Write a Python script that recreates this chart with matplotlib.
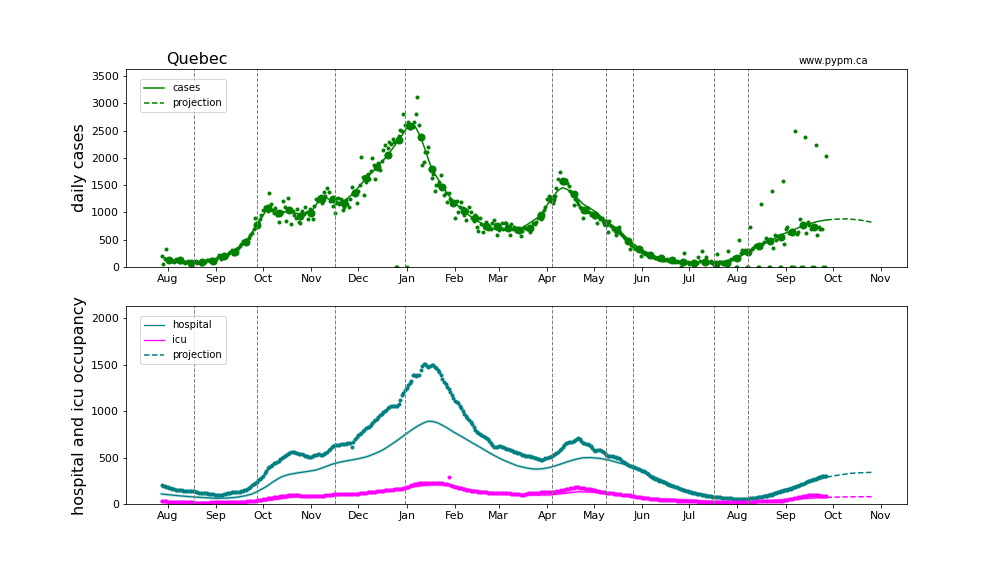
import numpy as np
import pandas as pd
import matplotlib
matplotlib.use("Agg")
import matplotlib.pyplot as plt
import matplotlib.dates as mdates

# ---------------- data ----------------
ORIGIN = np.datetime64("2020-08-01")
DATA_START = "2020-07-28"

# daily reported cases, from 2020-07-28 (one row per 7 days)
cases_daily = [
    190, 55, 150, 330, 140, 110, 125,
    115, 95, 140, 100, 125, 80, 110,
    95, 70, 85, 115, 60, 50, 90,
    80, 110, 70, 95, 60, 90, 105,
    95, 130, 120, 100, 140, 110, 125,
    150, 180, 210, 140, 170, 200, 190,
    220, 250, 270, 300, 240, 260, 330,
    340, 380, 410, 470, 430, 500, 470,
    520, 580, 620, 700, 900, 760, 820,
    880, 960, 1040, 1100, 1060, 1020, 1350,
    1150, 1050, 990, 1080, 950, 830, 1000,
    1000, 1210, 1100, 850, 1270, 1050, 780,
    1030, 960, 900, 1060, 830, 800, 1020,
    970, 1100, 1000, 870, 1060, 980, 880,
    1120, 1250, 1200, 1280, 1300, 1170, 1380,
    1300, 1440, 1380, 1200, 1250, 1120, 980,
    1180, 1260, 1150, 1250, 1050, 1100, 1220,
    1150, 1100, 1250, 1470, 1350, 1400, 1170,
    1400, 1500, 2020, 1650, 1320, 1560, 1700,
    1620, 1750, 1990, 1870, 1610, 1850, 1900,
    1780, 1950, 2150, 2236, 2050, 2180, 2300,
    2250, 2350, 2300, 0, 0, 2400, 2510,
    2500, 2798, 2600, 0, 2650, 2550, 2580,
    2571, 2650, 2800, 3127, 2600, 2380, 1870,
    1930, 2113, 2100, 2205, 1800, 1625, 1700,
    1393, 1502, 1500, 1550, 1686, 1450, 1320,
    1350, 1197, 1350, 1250, 1200, 1170, 892,
    1200, 1000, 1100, 1197, 1080, 960, 861,
    1020, 1105, 1000, 900, 850, 950, 739,
    665, 890, 780, 647, 770, 820, 700,
    740, 690, 810, 861, 720, 586, 680,
    730, 800, 700, 800, 810, 702, 586,
    788, 700, 739, 650, 720, 678, 568,
    650, 739, 720, 700, 708, 647, 730,
    800, 788, 830, 900, 953, 874, 900,
    1050, 1100, 1241, 1301, 1200, 1241, 1167,
    1300, 1450, 1607, 1746, 1550, 1582, 1534,
    1600, 1534, 1480, 1400, 1338, 1136, 1241,
    1200, 1150, 1100, 1075, 892, 1045, 1013,
    1075, 1000, 950, 980, 920, 953, 800,
    922, 870, 892, 850, 800, 812, 647,
    848, 750, 700, 720, 586, 678, 739,
    620, 580, 550, 520, 482, 470, 324,
    403, 380, 350, 330, 340, 330, 202,
    280, 250, 230, 240, 214, 200, 190,
    180, 170, 165, 150, 140, 160, 130,
    130, 120, 140, 110, 125, 128, 100,
    95, 100, 90, 97, 5, 79, 251,
    80, 85, 60, 70, 90, 68, 50,
    70, 189, 110, 281, 90, 97, 189,
    80, 95, 100, 70, 55, 60, 232,
    90, 80, 75, 60, 70, 68, 281,
    120, 140, 150, 180, 0, 0, 495,
    250, 312, 280, 300, 0, 0, 739,
    320, 350, 380, 400, 0, 0, 1149,
    420, 450, 526, 470, 0, 0, 1393,
    342, 586, 500, 560, 0, 0, 1576,
    416, 691, 739, 620, 0, 0, 0,
    2487, 599, 640, 874, 0, 0, 2377,
    629, 830, 760, 700, 0, 0, 2230,
    580, 739, 691, 700, 0, 0, 2028,
]

# weekly averaged cases (large dots), every 7 days from 2020-08-02
WEEKLY_START = "2020-08-02"
cases_weekly = [
    130, 125, 70, 95, 115, 190, 280, 450, 760, 1075,
    995, 1040, 925, 995, 1240, 1240, 1180, 1360, 1635, 1830,
    2050, 2330, 2585, 2380, 1800, 1460, 1180, 1030, 895, 740,
    750, 705, 680, 710, 955, 1240, 1580, 1340, 1045, 955,
    810, 680, 480, 330, 215, 160, 125, 85, 70, 95,
    55, 70, 170, 270, 385, 475, 540, 630, 770, 725,
]

# model for cases: days after 2020-08-01 and values
case_model_days = [-4, 1, 8, 15, 22, 29, 36, 43, 50, 57, 64, 70, 78, 85, 92, 99,
                   106, 112, 119, 127, 134, 141, 148, 154, 156, 158, 162, 169, 176,
                   183, 190, 197, 205, 211, 218, 225, 230, 239, 245, 250, 253, 256,
                   260, 266, 274, 281, 289, 295, 303, 310, 317, 324, 333, 343, 351,
                   358, 365, 372, 379, 387, 394, 401, 407, 416, 422]
case_model_vals = [190, 128, 125, 75, 97, 118, 189, 285, 455, 760, 1075, 1015, 1000,
                   971, 1013, 1307, 1200, 1180, 1350, 1625, 1827, 2052, 2327, 2584,
                   2610, 2602, 2388, 1809, 1471, 1197, 1013, 861, 739, 678, 670, 678,
                   770, 940, 1228, 1400, 1453, 1420, 1330, 1154, 1013, 830, 678, 495,
                   324, 220, 147, 115, 86, 86, 86, 110, 159, 281, 403, 495, 599, 678,
                   757, 830, 861]
case_proj_days = [422, 428, 435, 443, 451]
case_proj_vals = [861, 874, 880, 861, 819]

# hospital occupancy, daily from 2020-07-28
hosp_daily = [
    204, 198, 190, 185, 179, 175, 170,
    165, 160, 155, 150, 152, 148, 146,
    145, 144, 143, 142, 141, 140, 138,
    135, 130, 128, 122, 120, 118, 117,
    116, 115, 113, 110, 108, 105, 100,
    98, 97, 96, 98, 100, 105, 110,
    115, 120, 122, 124, 127, 130, 132,
    132, 133, 135, 140, 148, 152, 158,
    170, 185, 200, 212, 222, 240, 258,
    270, 282, 300, 330, 360, 385, 401,
    412, 425, 438, 447, 455, 465, 480,
    495, 505, 515, 528, 540, 552, 560,
    562, 558, 550, 545, 540, 538, 535,
    528, 520, 515, 510, 505, 509, 515,
    525, 532, 538, 535, 530, 527, 535,
    548, 565, 581, 595, 610, 622, 634,
    636, 638, 640, 642, 645, 648, 650,
    655, 660, 662, 610, 670, 700, 725,
    742, 755, 770, 785, 800, 815, 825,
    831, 850, 870, 890, 905, 920, 939,
    955, 970, 990, 1005, 1018, 1035, 1045,
    1052, 1054, 1055, 1054, 1054, 1080, 1120,
    1172, 1200, 1230, 1250, 1280, 1300, 1330,
    1387, 1390, 1380, 1387, 1395, 1440, 1490,
    1513, 1505, 1490, 1477, 1485, 1500, 1495,
    1480, 1465, 1440, 1423, 1390, 1350, 1315,
    1290, 1265, 1244, 1210, 1170, 1137, 1115,
    1100, 1083, 1060, 1030, 1000, 975, 950,
    925, 905, 885, 860, 830, 800, 780,
    760, 750, 740, 730, 724, 715, 700,
    680, 660, 640, 616, 612, 615, 620,
    624, 616, 610, 602, 595, 588, 581,
    578, 570, 565, 558, 550, 545, 538,
    532, 528, 522, 518, 516, 512, 509,
    505, 498, 492, 485, 480, 475, 478,
    485, 492, 498, 505, 509, 515, 525,
    540, 552, 562, 578, 595, 615, 635,
    652, 660, 665, 668, 670, 678, 690,
    700, 713, 705, 680, 659, 652, 648,
    645, 640, 620, 600, 581, 575, 578,
    582, 580, 570, 560, 545, 527, 520,
    518, 516, 514, 510, 505, 498, 491,
    480, 468, 455, 445, 432, 419, 410,
    405, 401, 395, 388, 380, 372, 366,
    360, 352, 345, 335, 320, 300, 287,
    280, 272, 265, 258, 250, 245, 240,
    232, 225, 218, 210, 202, 195, 190,
    186, 180, 172, 165, 158, 152, 150,
    145, 138, 130, 125, 120, 118, 115,
    112, 108, 105, 100, 96, 92, 88,
    86, 84, 82, 80, 79, 77, 75,
    73, 72, 70, 69, 68, 66, 64,
    61, 60, 58, 57, 56, 55, 54,
    54, 53, 52, 50, 50, 55, 61,
    63, 65, 68, 70, 72, 75, 78,
    79, 82, 86, 90, 93, 97, 102,
    108, 115, 120, 125, 132, 138, 142,
    146, 150, 154, 158, 165, 172, 180,
    186, 192, 198, 204, 212, 220, 230,
    240, 246, 252, 258, 262, 266, 272,
    280, 288, 294, 298, 301, 303, 305,
]

# icu occupancy, daily from 2020-07-28
icu_daily = [
    32, 30, 28, 27, 25, 24, 23,
    22, 21, 20, 20, 19, 19, 18,
    18, 18, 18, 17, 17, 17, 17,
    16, 16, 16, 15, 15, 16, 16,
    16, 15, 15, 16, 17, 17, 18,
    18, 18, 18, 19, 19, 20, 20,
    21, 21, 22, 22, 23, 23, 24,
    24, 24, 25, 25, 25, 26, 27,
    28, 30, 32, 34, 36, 38, 40,
    43, 46, 50, 54, 58, 62, 66,
    68, 70, 72, 74, 76, 79, 82,
    84, 86, 88, 90, 92, 95, 96,
    97, 96, 95, 94, 92, 90, 88,
    87, 86, 86, 85, 86, 86, 87,
    86, 85, 86, 87, 86, 88, 90,
    92, 95, 98, 100, 102, 104, 104,
    105, 104, 106, 105, 107, 106, 108,
    107, 108, 106, 108, 108, 110, 112,
    113, 115, 116, 118, 120, 122, 124,
    125, 126, 128, 130, 133, 136, 139,
    141, 143, 145, 147, 149, 150, 152,
    154, 156, 157, 158, 160, 162, 164,
    166, 168, 172, 178, 185, 192, 200,
    208, 215, 218, 220, 222, 224, 226,
    228, 229, 229, 228, 228, 227, 226,
    225, 224, 223, 222, 222, 221, 220,
    218, 215, 287, 204, 198, 192, 186,
    180, 175, 170, 168, 164, 160, 156,
    152, 148, 145, 142, 140, 138, 136,
    134, 132, 130, 128, 126, 124, 122,
    121, 120, 119, 118, 117, 118, 120,
    122, 121, 119, 117, 116, 115, 114,
    112, 111, 110, 109, 108, 105, 100,
    98, 102, 106, 110, 114, 118, 120,
    122, 122, 121, 122, 123, 124, 124,
    125, 125, 126, 126, 126, 128, 131,
    134, 137, 140, 144, 148, 152, 155,
    158, 162, 166, 170, 174, 177, 179,
    179, 178, 176, 174, 172, 170, 166,
    162, 160, 158, 154, 150, 146, 142,
    138, 134, 130, 126, 124, 122, 120,
    118, 116, 114, 112, 110, 108, 106,
    104, 102, 100, 98, 97, 95, 92,
    89, 86, 83, 80, 77, 74, 71,
    68, 65, 62, 61, 60, 58, 56,
    54, 52, 50, 49, 48, 47, 46,
    45, 44, 43, 42, 41, 40, 39,
    38, 37, 36, 35, 34, 33, 32,
    31, 30, 30, 29, 28, 28, 27,
    27, 26, 25, 25, 24, 24, 23,
    23, 22, 22, 21, 21, 20, 20,
    20, 19, 19, 19, 18, 18, 18,
    18, 18, 18, 18, 19, 19, 20,
    20, 21, 22, 22, 23, 24, 25,
    25, 26, 26, 27, 27, 28, 28,
    28, 29, 29, 29, 30, 30, 30,
    31, 31, 32, 32, 32, 33, 34,
    38, 42, 46, 50, 54, 58, 61,
    65, 68, 72, 75, 78, 82, 86,
    90, 93, 95, 97, 98, 97, 95,
    93, 92, 90, 90, 88, 87, 86,
]

hosp_model_days = [-4, 5, 14, 22, 31, 38, 44, 50, 54, 58, 63, 68, 73, 78, 84, 90, 95,
                   100, 105, 110, 115, 119, 123, 128, 132, 137, 141, 146, 151, 156,
                   160, 164, 167, 170, 173, 178, 183, 189, 194, 200, 205, 210, 215,
                   220, 224, 228, 231, 234, 237, 241, 245, 250, 256, 261, 266, 271,
                   277, 283, 288, 293, 298, 304, 309, 315, 320, 325, 330, 336, 341,
                   347, 352, 357, 362, 367, 372, 378, 384, 389, 394, 400, 405, 411,
                   416, 422]
hosp_model_vals = [108, 92, 79, 70, 61, 64, 72, 90, 108, 140, 186, 245, 294, 320, 337,
                   352, 366, 395, 427, 450, 466, 478, 491, 512, 538, 575, 616, 673,
                   734, 795, 839, 875, 892, 888, 874, 830, 777, 720, 670, 612, 562,
                   515, 473, 438, 412, 395, 385, 378, 376, 382, 395, 420, 455, 480,
                   498, 500, 491, 472, 448, 426, 401, 355, 312, 268, 229, 192, 158,
                   128, 108, 88, 72, 62, 54, 52, 54, 72, 97, 122, 150, 178, 204, 232,
                   258, 290]
hosp_proj_days = [422, 430, 437, 444, 451]
hosp_proj_vals = [290, 312, 330, 337, 341]

icu_model_days = [-4, 8, 20, 35, 45, 55, 63, 70, 78, 86, 95, 104, 115, 126, 137, 147,
                  157, 166, 172, 179, 186, 194, 202, 211, 220, 232, 244, 254, 263,
                  271, 280, 291, 302, 317, 332, 341, 350, 360, 371, 382, 392, 401,
                  410, 416, 422]
icu_model_vals = [25, 20, 16, 16, 18, 25, 36, 52, 72, 82, 86, 88, 100, 115, 138, 158,
                  185, 204, 208, 204, 180, 150, 130, 115, 104, 97, 97, 115, 132, 128,
                  115, 90, 68, 52, 43, 33, 25, 20, 18, 28, 43, 52, 62, 67, 72]
icu_proj_days = [422, 437, 451]
icu_proj_vals = [72, 77, 79]

# transition dates (days after 2020-08-01)
transition_days = [17, 57, 107, 152, 246, 281, 298, 350, 372]

# ---------------- helpers ----------------
def to_dates(days):
    return ORIGIN + np.array(days, dtype="timedelta64[D]")

daily_dates = pd.date_range(DATA_START, periods=len(cases_daily), freq="D")
weekly_dates = pd.date_range(WEEKLY_START, periods=len(cases_weekly), freq="7D")
hosp_dates = pd.date_range(DATA_START, periods=len(hosp_daily), freq="D")
icu_dates = pd.date_range(DATA_START, periods=len(icu_daily), freq="D")

GREEN = "green"
TEAL = "teal"
MAG = "magenta"

fig, (ax1, ax2) = plt.subplots(2, 1, figsize=(14, 8), dpi=72)
fig.subplots_adjust(left=0.125, right=0.9, top=0.88, bottom=0.125, hspace=0.2)

# ---- top panel: cases ----
ax1.plot(to_dates(case_model_days), case_model_vals, color=GREEN, lw=1.5, label="cases")
ax1.plot(to_dates(case_proj_days), case_proj_vals, color=GREEN, lw=1.5, ls="--",
         label="projection")
ax1.plot(daily_dates, cases_daily, "o", color=GREEN, markersize=3, ls="none")
ax1.plot(weekly_dates, cases_weekly, "o", color=GREEN, markersize=7, ls="none")
ax1.set_ylim(0, 3630)
ax1.set_yticks(np.arange(0, 3501, 500))
ax1.set_ylabel("daily cases", fontsize=16)
ax1.text(0.051, 1.025, "Quebec", transform=ax1.transAxes, fontsize=16)
ax1.text(0.95, 1.025, "www.pypm.ca", transform=ax1.transAxes, fontsize=10, ha="right")
ax1.legend(loc="upper left", bbox_to_anchor=(0.012, 0.975), fontsize=10)

# ---- bottom panel: hospital / icu ----
ax2.plot(to_dates(hosp_model_days), hosp_model_vals, color=TEAL, lw=3, alpha=0.25)
ax2.plot(to_dates(hosp_model_days), hosp_model_vals, color=TEAL, lw=1.3, label="hospital")
ax2.plot(to_dates(icu_model_days), icu_model_vals, color=MAG, lw=3, alpha=0.25)
ax2.plot(to_dates(icu_model_days), icu_model_vals, color=MAG, lw=1.3, label="icu")
ax2.plot(to_dates(hosp_proj_days), hosp_proj_vals, color=TEAL, lw=1.5, ls="--",
         label="projection")
ax2.plot(to_dates(icu_proj_days), icu_proj_vals, color=MAG, lw=1.5, ls="--")
ax2.plot(hosp_dates, hosp_daily, "o", color=TEAL, markersize=3, ls="none")
ax2.plot(icu_dates, icu_daily, "o", color=MAG, markersize=3, ls="none")
ax2.set_ylim(0, 2130)
ax2.set_yticks(np.arange(0, 2001, 500))
ax2.set_ylabel("hospital and icu occupancy", fontsize=16)
ax2.legend(loc="upper left", bbox_to_anchor=(0.012, 0.975), fontsize=10)

for ax in (ax1, ax2):
    for d in transition_days:
        ax.axvline(to_dates([d])[0], color="grey", ls="--", lw=1)
    ax.xaxis.set_major_locator(mdates.MonthLocator())
    ax.xaxis.set_major_formatter(mdates.DateFormatter("%b"))
    ax.tick_params(labelsize=11)

fig.savefig("out.png", dpi=72)
